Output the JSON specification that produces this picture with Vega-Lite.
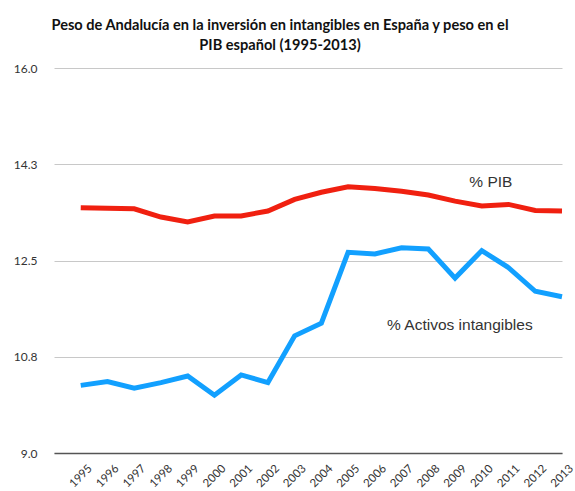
{
  "$schema": "https://vega.github.io/schema/vega-lite/v6.json",
  "autosize": "none",
  "width": 508,
  "height": 385,
  "padding": {"left": 54, "top": 68, "right": 13, "bottom": 38},
  "background": "white",
  "title": {
    "text": ["Peso de Andalucía en la inversión en intangibles en España y peso en el", "PIB español (1995-2013)"],
    "anchor": "middle",
    "dx": -28,
    "offset": 9,
    "font": "Lato",
    "fontSize": 14.6,
    "fontWeight": "bold",
    "color": "#111111",
    "lineHeight": 20
  },
  "datasets": {
    "series": [
      {"year": 1995, "serie": "% PIB", "value": 13.46},
      {"year": 1996, "serie": "% PIB", "value": 13.45},
      {"year": 1997, "serie": "% PIB", "value": 13.44},
      {"year": 1998, "serie": "% PIB", "value": 13.29},
      {"year": 1999, "serie": "% PIB", "value": 13.20},
      {"year": 2000, "serie": "% PIB", "value": 13.31},
      {"year": 2001, "serie": "% PIB", "value": 13.31},
      {"year": 2002, "serie": "% PIB", "value": 13.40},
      {"year": 2003, "serie": "% PIB", "value": 13.61},
      {"year": 2004, "serie": "% PIB", "value": 13.74},
      {"year": 2005, "serie": "% PIB", "value": 13.84},
      {"year": 2006, "serie": "% PIB", "value": 13.81},
      {"year": 2007, "serie": "% PIB", "value": 13.76},
      {"year": 2008, "serie": "% PIB", "value": 13.69},
      {"year": 2009, "serie": "% PIB", "value": 13.58},
      {"year": 2010, "serie": "% PIB", "value": 13.49},
      {"year": 2011, "serie": "% PIB", "value": 13.52},
      {"year": 2012, "serie": "% PIB", "value": 13.41},
      {"year": 2013, "serie": "% PIB", "value": 13.40},
      {"year": 1995, "serie": "% Activos intangibles", "value": 10.23},
      {"year": 1996, "serie": "% Activos intangibles", "value": 10.30},
      {"year": 1997, "serie": "% Activos intangibles", "value": 10.18},
      {"year": 1998, "serie": "% Activos intangibles", "value": 10.28},
      {"year": 1999, "serie": "% Activos intangibles", "value": 10.40},
      {"year": 2000, "serie": "% Activos intangibles", "value": 10.05},
      {"year": 2001, "serie": "% Activos intangibles", "value": 10.42},
      {"year": 2002, "serie": "% Activos intangibles", "value": 10.28},
      {"year": 2003, "serie": "% Activos intangibles", "value": 11.13},
      {"year": 2004, "serie": "% Activos intangibles", "value": 11.36},
      {"year": 2005, "serie": "% Activos intangibles", "value": 12.65},
      {"year": 2006, "serie": "% Activos intangibles", "value": 12.62},
      {"year": 2007, "serie": "% Activos intangibles", "value": 12.73},
      {"year": 2008, "serie": "% Activos intangibles", "value": 12.71},
      {"year": 2009, "serie": "% Activos intangibles", "value": 12.18},
      {"year": 2010, "serie": "% Activos intangibles", "value": 12.68},
      {"year": 2011, "serie": "% Activos intangibles", "value": 12.37},
      {"year": 2012, "serie": "% Activos intangibles", "value": 11.94},
      {"year": 2013, "serie": "% Activos intangibles", "value": 11.84}
    ],
    "labels": [
      {"year": 2010.34, "value": 13.92, "label": "% PIB"},
      {"year": 2009.18, "value": 11.32, "label": "% Activos intangibles"}
    ]
  },
  "config": {
    "view": {"stroke": null},
    "axisX": {"labelOverlap": false, "labelSeparation": -40}
  },
  "encoding": {
    "x": {
      "field": "year",
      "type": "quantitative",
      "scale": {"domain": [1994, 2013], "nice": false, "zero": false},
      "axis": {
        "title": null,
        "values": [1995, 1996, 1997, 1998, 1999, 2000, 2001, 2002, 2003, 2004, 2005, 2006, 2007, 2008, 2009, 2010, 2011, 2012, 2013],
        "format": "d",
        "grid": false,
        "ticks": false,
        "domainColor": "#555555",
        "domainWidth": 1.5,
        "labelAngle": -45,
        "labelAlign": "center",
        "labelBaseline": "middle",
        "labelPadding": 23,
        "labelFont": "Lato",
        "labelFontSize": 11.5,
        "labelColor": "#333333",
        "labelOverlap": false,
        "labelBound": false,
        "labelFlush": false
      }
    },
    "y": {
      "field": "value",
      "type": "quantitative",
      "scale": {"domain": [9, 16], "nice": false, "zero": false},
      "axis": {
        "title": null,
        "values": [9, 10.75, 12.5, 14.25, 16],
        "format": ".1f",
        "domain": false,
        "ticks": false,
        "gridColor": "#c8c8c8",
        "gridWidth": 1,
        "labelPadding": 17,
        "labelFont": "Lato",
        "labelFontSize": 12,
        "labelColor": "#333333"
      }
    }
  },
  "layer": [
    {
      "data": {"name": "series"},
      "mark": {"type": "line", "strokeWidth": 5, "strokeJoin": "miter", "strokeCap": "butt"},
      "encoding": {
        "color": {
          "field": "serie",
          "type": "nominal",
          "scale": {"domain": ["% PIB", "% Activos intangibles"], "range": ["#f02010", "#12a0ff"]},
          "legend": null
        }
      }
    },
    {
      "data": {"name": "labels"},
      "mark": {"type": "text", "font": "Liberation Sans", "fontSize": 15.5, "color": "#333333", "align": "center", "baseline": "middle"},
      "encoding": {
        "text": {"field": "label", "type": "nominal"}
      }
    }
  ]
}
